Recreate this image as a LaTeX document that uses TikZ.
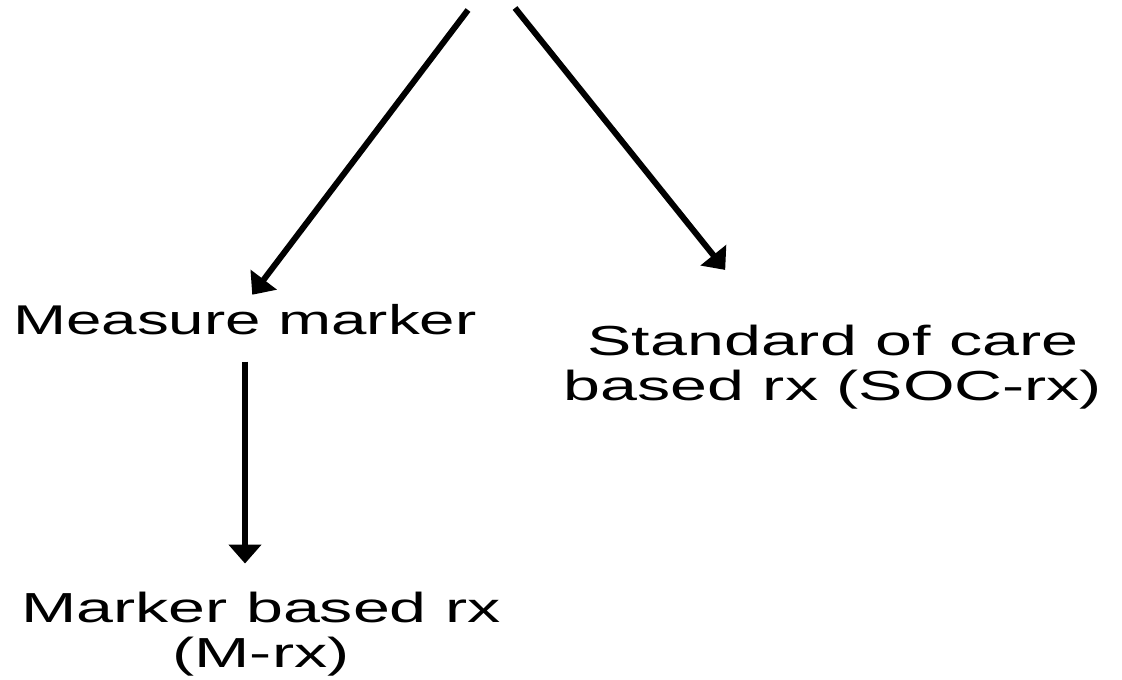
\documentclass[tikz,border=0pt]{standalone}
\usepackage{fontspec}
\usepackage{tikz}
\usetikzlibrary{arrows.meta, positioning, calc}
\newfontfamily\labelfont[FakeStretch=1.58]{Liberation Sans}
\newfontfamily\measfont[FakeStretch=1.53]{Liberation Sans}

\begin{document}
\begin{tikzpicture}[
        x=0.5pt, y=-0.5pt,
        label/.style={inner sep=0pt, align=center, font=\labelfont\fontsize{21pt}{22.5pt}\selectfont},
        arrow/.style={-{Triangle[width=16pt, length=9.5pt]}, line width=3pt}
    ]
        \useasboundingbox (0,0) rectangle (1122,679);

        % Top of the two branches
        \coordinate (topl) at (468,10);
        \coordinate (topr) at (515,8);

        % Labels
        \node[label, font=\measfont\fontsize{20.8pt}{22.5pt}\selectfont] (meas) at (245,320) {Measure marker};
        \node[label] (soc) at (833,367) {Standard of care\\based rx (SOC-rx)};
        \node[label] (mrx) at (261,634) {Marker based rx\\(M-rx)};

        % Arrows
        \draw[arrow, shorten >=6pt] (topl) -- (meas.north);
        \draw[arrow, shorten >=35pt] (topr) -- ([xshift=-32pt]soc.north);
        \draw[arrow, shorten <=13pt, shorten >=14pt] (meas.south) -- (meas.south |- mrx.north);
    \end{tikzpicture}
\end{document}
